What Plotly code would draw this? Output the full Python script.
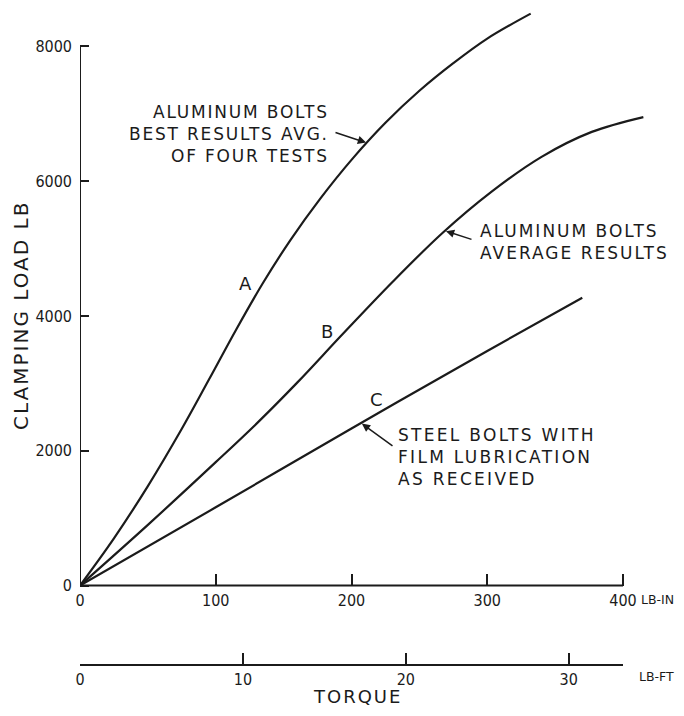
import numpy as np
import plotly.graph_objects as go

# ---------------- data ----------------
torque_in_ticks = [0, 100, 200, 300, 400]
torque_ft_ticks = [0, 10, 20, 30]
load_ticks = [0, 2000, 4000, 6000, 8000]

# Curve A: aluminum bolts, best results avg. of four tests
a_torque = [0, 25, 50, 75, 95, 115, 135, 155, 177, 200, 225, 250, 275, 300, 332]
a_load = [0, 700, 1475, 2325, 3055, 3795, 4495, 5125, 5740, 6315, 6865, 7340, 7750, 8115, 8485]

# Curve B: aluminum bolts, average results
b_torque = [0, 50, 100, 131, 160, 193, 230, 267, 303, 340, 377, 415]
b_load = [0, 900, 1830, 2420, 3010, 3720, 4500, 5230, 5840, 6360, 6730, 6950]

# Curve C: steel bolts with film lubrication as received
c_torque = [0, 100, 200, 300, 370]
c_load = [0, 1160, 2330, 3480, 4270]

# ---------------- layout geometry ----------------
OFF = 8                      # default page margin of the html body
W, H = 684 - OFF, 716 - 2 * OFF
ML, MR, MT = 80 - OFF, 24, 0
PLOT_BOTTOM = 665 - OFF      # figure pixel row of the lb-ft axis
MB = H - PLOT_BOTTOM
PW, PH = W - ML - MR, H - MT - MB
PX_PER_IN = 1.3575           # pixels per lb-in
PX_PER_LB = 134.8 / 2000.0   # pixels per lb
Y0_PX = 585.5 - OFF          # figure pixel row of zero load

x_range = [0, PW / PX_PER_IN]
y_range = [-(MT + PH - Y0_PX) / PX_PER_LB, (Y0_PX - MT) / PX_PER_LB]

INK = "#1b1b1b"
TEXT_FONT = "DejaVu Sans, Verdana, sans-serif"
NUM_FONT = "Liberation Sans Narrow, DejaVu Sans Condensed, Roboto Condensed, Liberation Sans, sans-serif"


def to_paper(xp, yp):
    """Page pixel position (as seen in the reference) -> paper coords."""
    xf, yf = xp - OFF, yp - OFF
    return (xf - ML) / PW, (MT + PH - yf) / PH


def spaced(text, ls):
    return "<br>".join(f'<span style="letter-spacing:{ls}px">{t}</span>' for t in text.split("<br>"))


fig = go.Figure()

for xs, ys, name in [(a_torque, a_load, "A"), (b_torque, b_load, "B"), (c_torque, c_load, "C")]:
    fig.add_trace(go.Scatter(
        x=xs, y=ys, mode="lines", name=name,
        line=dict(color=INK, width=2.2, shape="spline", smoothing=1.0),
        hoverinfo="skip", showlegend=False,
    ))

# invisible trace so the lb-ft axis is drawn
fig.add_trace(go.Scatter(
    x=torque_ft_ticks, y=[0] * len(torque_ft_ticks), xaxis="x2", yaxis="y",
    mode="markers", marker=dict(size=1, opacity=0), hoverinfo="skip", showlegend=False,
))

axis_common = dict(showgrid=False, zeroline=False, showline=False,
                   ticks="inside", tickcolor=INK, tickwidth=1.6,
                   tickfont=dict(family=NUM_FONT, size=16, color=INK))

fig.update_layout(
    width=W, height=H, autosize=False,
    margin=dict(l=ML, r=MR, t=MT, b=MB, pad=0),
    paper_bgcolor="white", plot_bgcolor="white",
    xaxis=dict(range=x_range, tickmode="array", tickvals=torque_in_ticks,
               ticktext=[str(v) for v in torque_in_ticks],
               anchor="free", position=(MT + PH - Y0_PX) / PH, ticklen=12,
               ticklabelstandoff=3, **axis_common),
    xaxis2=dict(range=[x_range[0] / 12, x_range[1] / 12], tickmode="array",
                tickvals=torque_ft_ticks, ticktext=[str(v) for v in torque_ft_ticks],
                overlaying="x", anchor="free", position=0, side="bottom", ticklen=12,
                ticklabelstandoff=3, **axis_common),
    yaxis=dict(range=y_range, tickmode="array", tickvals=load_ticks,
               ticktext=[str(v) for v in load_ticks], ticklen=9,
               ticklabelstandoff=7, **axis_common),
)

# axis lines
fig.add_shape(type="line", xref="x", yref="y", x0=0, x1=0, y0=0, y1=load_ticks[-1],
              line=dict(color=INK, width=2))
fig.add_shape(type="line", xref="x", yref="y", x0=0, x1=torque_in_ticks[-1], y0=0, y1=0,
              line=dict(color=INK, width=2))
fig.add_shape(type="line", xref="x", yref="paper", x0=0, x1=torque_in_ticks[-1], y0=0, y1=0,
              line=dict(color=INK, width=2))

annotations = []


def add_text(text, xp, yp, xanchor="center", size=18, angle=0, align="left", ls=0):
    px_, py_ = to_paper(xp, yp)
    annotations.append(dict(text=spaced(text, ls) if ls else text, x=px_, y=py_,
                            xref="paper", yref="paper",
                            xanchor=xanchor, yanchor="middle", showarrow=False,
                            align=align, textangle=angle,
                            font=dict(family=TEXT_FONT, size=size, color=INK)))


# curve letters
add_text("A", 245, 283)
add_text("B", 327, 331)
add_text("C", 376, 399)

# descriptive labels
add_text("ALUMINUM BOLTS<br>BEST RESULTS AVG.<br>OF FOUR TESTS", 331, 134, "right", size=17, align="right", ls=1.8)
add_text("ALUMINUM BOLTS<br>AVERAGE RESULTS", 478, 242, "left", size=17, ls=2.0)
add_text("STEEL BOLTS WITH<br>FILM LUBRICATION<br>AS RECEIVED", 396, 457, "left", size=17, ls=2.3)

# axis titles / units
add_text("CLAMPING LOAD LB", 21, 316, "center", size=20, angle=-90, ls=2)
add_text("TORQUE", 357, 696, "center", size=18, ls=2)
add_text("LB-IN", 676, 599, "right", size=12.5)
add_text("LB-FT", 676, 676, "right", size=12.5)


# arrows pointing at curves
def add_arrow(xs, ys, tip_xp, tail_dx, tail_dy):
    tx = (tip_xp - OFF - ML) / PX_PER_IN
    ty = float(np.interp(tx, xs, ys))
    annotations.append(dict(text="", x=tx, y=ty, xref="x", yref="y",
                            showarrow=True, ax=tail_dx, ay=tail_dy,
                            arrowhead=2, arrowsize=1.1, arrowwidth=1.5,
                            arrowcolor=INK, standoff=1))


add_arrow(a_torque, a_load, 367, -33, -11)
add_arrow(b_torque, b_load, 445, 28, 9)
add_arrow(c_torque, c_load, 361, 33, 24)

fig.update_layout(annotations=annotations)

fig.write_html("out.html")
